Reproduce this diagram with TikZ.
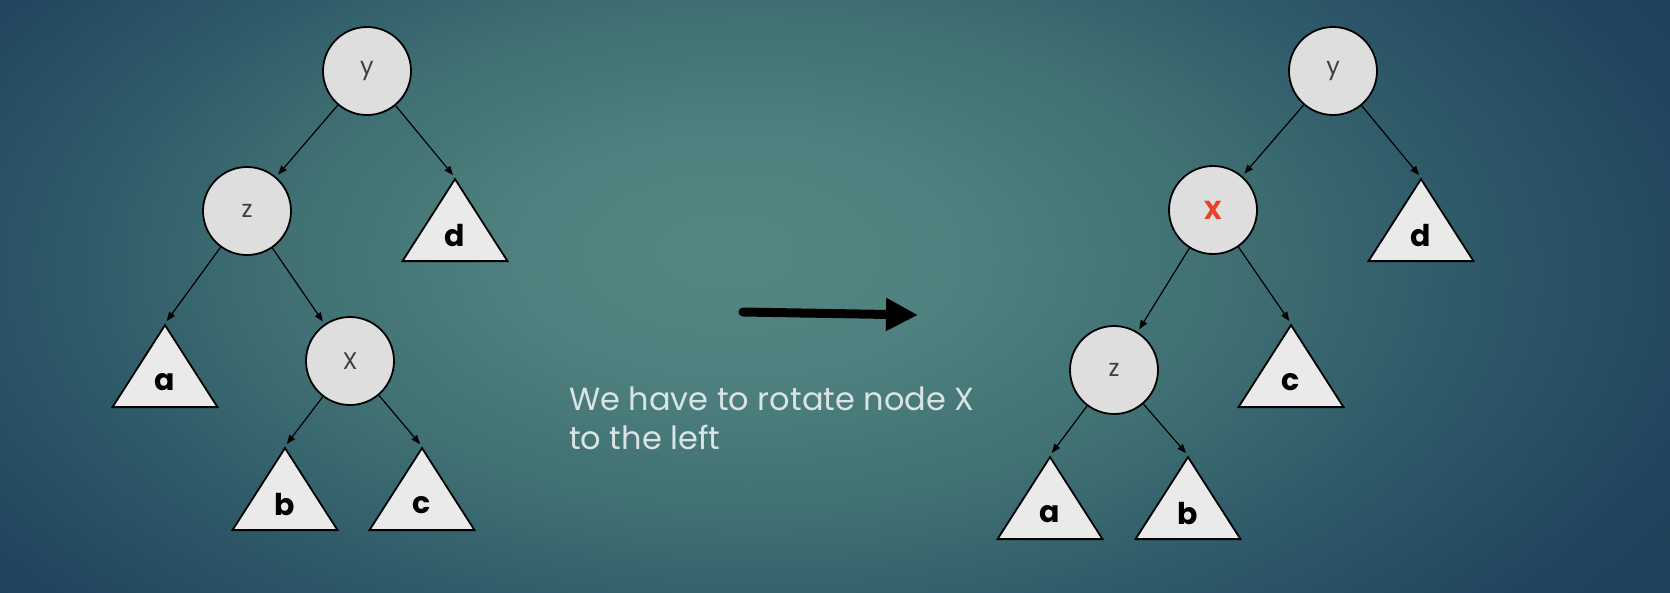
\documentclass[tikz,border=0pt]{standalone}
\usepackage{fontspec}
\setmainfont{Poppins}
\usetikzlibrary{arrows.meta, shapes.geometric}
\definecolor{keyGrey}{RGB}{222,222,222}
\definecolor{subGrey}{RGB}{234,234,234}
\definecolor{rotRed}{RGB}{232,66,40}
\definecolor{noteText}{RGB}{218,228,228}
\pgfdeclareradialshading{slidebg}{\pgfpoint{-3.4bp}{2.6bp}}{%
  rgb(0bp)=(0.33,0.53,0.51); rgb(6bp)=(0.31,0.51,0.50);
  rgb(14bp)=(0.25,0.44,0.45); rgb(21bp)=(0.18,0.35,0.41);
  rgb(28bp)=(0.13,0.27,0.37); rgb(40bp)=(0.10,0.22,0.32);
  rgb(50bp)=(0.10,0.22,0.32)}

\begin{document}
\begin{tikzpicture}[x=1pt, y=-1pt, >={Triangle[length=9pt,width=7pt]},
  key/.style={circle, draw, line width=1.8pt, fill=keyGrey, minimum size=88pt,
              inner sep=0pt, font=\fontsize{24}{24}\selectfont, text=black!75},
  sub/.style={isosceles triangle, isosceles triangle apex angle=65,
              isosceles triangle stretches, shape border rotate=90, draw,
              line width=1.8pt, fill=subGrey, minimum width=105pt, minimum height=82pt,
              inner sep=4pt, anchor=south, font=\fontsize{30}{30}\selectfont\bfseries},
  link/.style={->, line width=1.2pt, shorten >=3pt}]

  \useasboundingbox (0,0) rectangle (1670,592);
  \begin{scope}
    \clip (0,0) rectangle (1670,592);
    \shade[shading=slidebg] (0,-150) rectangle (1670,742);
  \end{scope}

  % before the rotation
  \node[key] (yL) at (367,71)  {y};
  \node[key] (zL) at (247,211) {z};
  \node[key] (xL) at (350,361) {X};
  \node[sub] (dL) at (455,262) {d};
  \node[sub] (aL) at (165,408) {a};
  \node[sub] (bL) at (285,531) {b};
  \node[sub] (cL) at (422,531) {c};
  \draw[link] (yL) -- (zL);
  \draw[link] (yL) -- (dL.apex);
  \draw[link] (zL) -- (aL.apex);
  \draw[link] (zL) -- (xL);
  \draw[link] (xL) -- (bL.apex);
  \draw[link] (xL) -- (cL.apex);

  % after the rotation
  \node[key] (yR) at (1333,71)  {y};
  \node[key, text=rotRed, font=\fontsize{26}{26}\selectfont\bfseries] (xR) at (1213,210) {X};
  \node[key] (zR) at (1114,370) {z};
  \node[sub] (dR) at (1421,262) {d};
  \node[sub] (cR) at (1291,408) {c};
  \node[sub] (aR) at (1050,540) {a};
  \node[sub] (bR) at (1188,540) {b};
  \draw[link] (yR) -- (xR);
  \draw[link] (yR) -- (dR.apex);
  \draw[link] (xR) -- (zR);
  \draw[link] (xR) -- (cR.apex);
  \draw[link] (zR) -- (aR.apex);
  \draw[link] (zR) -- (bR.apex);

  \coordinate (rotFrom) at (743,312);
  \coordinate (rotTo) at (918,315);
  \draw[line width=9pt, line cap=round, -{Triangle[length=32pt,width=31pt]}] (rotFrom) -- (rotTo);

  \node[anchor=north west, align=left, inner sep=0pt, text=noteText,
        font=\fontsize{32}{39}\selectfont] (note) at (569,387)
    {We have to rotate node X\\to the left};

\end{tikzpicture}
\end{document}
